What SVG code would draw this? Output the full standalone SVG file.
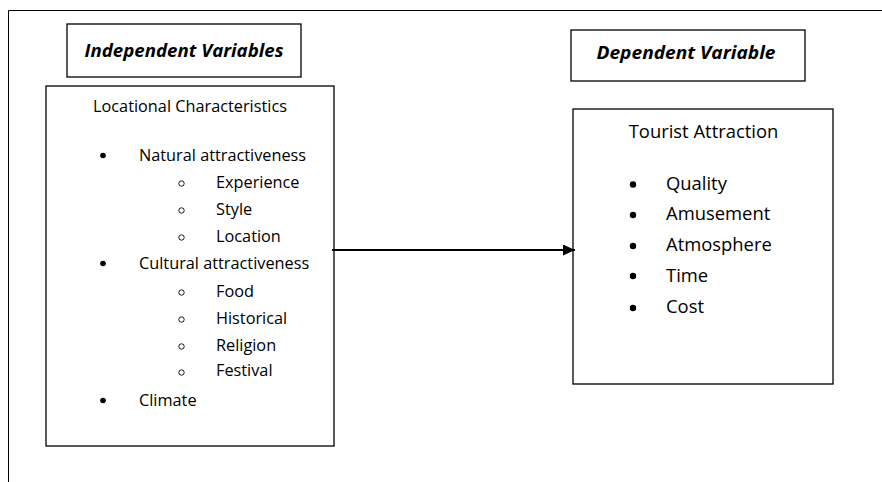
<svg xmlns="http://www.w3.org/2000/svg" width="882" height="482" viewBox="0 0 882 482">
<style>
  .box { fill: #ffffff; stroke: #000000; stroke-width: 1.3; }
  .frame { fill: none; stroke: #000000; stroke-width: 1; }
  text { font-family: "Open Sans", "Liberation Sans", sans-serif; font-size: 16.3px; fill: #000000; }
  .title { font-weight: bold; font-style: italic; font-size: 17px; text-anchor: middle; }
  .head { text-anchor: middle; }
  .big { font-size: 18.4px; }
  .conn { stroke: #000000; stroke-width: 2; fill: none; }
  .sub { fill: none; stroke: #000000; stroke-width: 0.9; }
</style>
<defs>
  <marker id="arrow" viewBox="0 0 12 11" refX="12" refY="5.5" markerWidth="6" markerHeight="5.5" markerUnits="strokeWidth" orient="auto">
    <path d="M0,0 L12,5.5 L0,11 z" fill="#000000"/>
  </marker>
</defs>
<rect width="882" height="482" fill="#ffffff"/>
<g id="frame">
  <path class="frame" d="M8.5,482 L8.5,10.5 L882,10.5"/>
</g>
<g id="independent-label">
  <rect class="box" x="67" y="24" width="234" height="53"/>
  <text class="title" x="184" y="57" textLength="199" lengthAdjust="spacingAndGlyphs">Independent Variables</text>
</g>
<g id="dependent-label">
  <rect class="box" x="571" y="30" width="234" height="51"/>
  <text class="title" x="686" y="59" textLength="179" lengthAdjust="spacingAndGlyphs">Dependent Variable</text>
</g>
<g id="locational">
  <rect class="box" x="46" y="86" width="288" height="360"/>
  <text class="head" x="190" y="112">Locational Characteristics</text>
  <circle cx="103" cy="155.5" r="2.8"/>
  <text x="139" y="161">Natural attractiveness</text>
  <circle class="sub" cx="181.5" cy="183.5" r="2.7"/>
  <text x="216" y="188">Experience</text>
  <circle class="sub" cx="181.5" cy="210.5" r="2.7"/>
  <text x="216" y="215">Style</text>
  <circle class="sub" cx="181.5" cy="237.5" r="2.7"/>
  <text x="216" y="242">Location</text>
  <circle cx="103" cy="263.5" r="2.8"/>
  <text x="139" y="269">Cultural attractiveness</text>
  <circle class="sub" cx="181.5" cy="292.5" r="2.7"/>
  <text x="216" y="297">Food</text>
  <circle class="sub" cx="181.5" cy="319.5" r="2.7"/>
  <text x="216" y="324">Historical</text>
  <circle class="sub" cx="181.5" cy="346.5" r="2.7"/>
  <text x="216" y="351">Religion</text>
  <circle class="sub" cx="181.5" cy="372.5" r="2.7"/>
  <text x="216" y="376">Festival</text>
  <circle cx="103" cy="400.5" r="2.8"/>
  <text x="139" y="406">Climate</text>
</g>
<g id="tourist">
  <rect class="box" x="573" y="109" width="260" height="275"/>
  <text class="head big" x="703.5" y="138">Tourist Attraction</text>
  <circle cx="633" cy="184.5" r="3.2"/>
  <text class="big" x="666" y="190">Quality</text>
  <circle cx="633" cy="215" r="3.2"/>
  <text class="big" x="666" y="220">Amusement</text>
  <circle cx="633" cy="246" r="3.2"/>
  <text class="big" x="666" y="251">Atmosphere</text>
  <circle cx="633" cy="276" r="3.2"/>
  <text class="big" x="666" y="282">Time</text>
  <circle cx="633" cy="308" r="3.2"/>
  <text class="big" x="666" y="313">Cost</text>
</g>
<g id="connectors">
  <line class="conn" x1="332" y1="250" x2="575" y2="250" marker-end="url(#arrow)"/>
</g>
</svg>
